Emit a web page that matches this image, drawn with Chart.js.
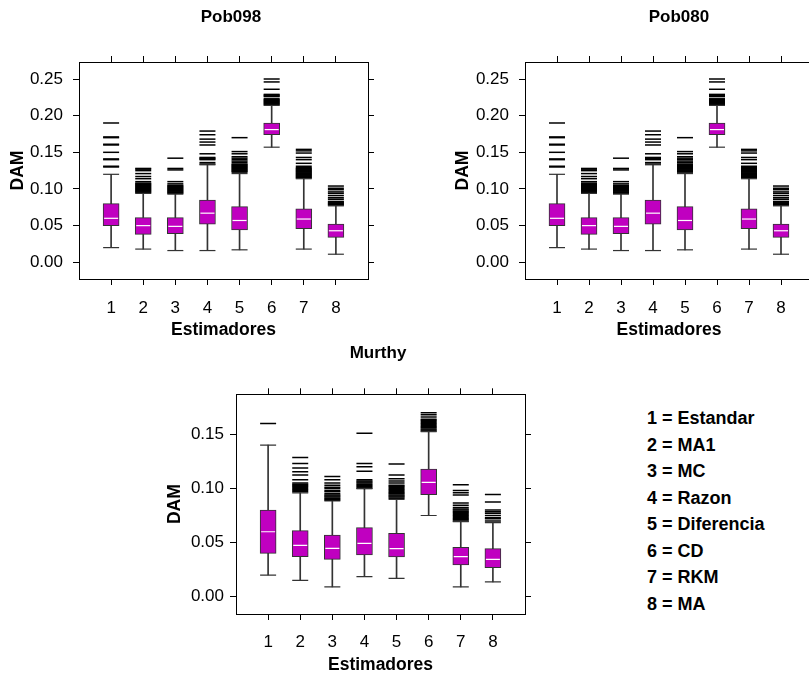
<!DOCTYPE html>
<html>
<head>
<meta charset="utf-8">
<title>DAM por estimador</title>
<script src="https://cdn.jsdelivr.net/npm/chart.js@4.4.0/dist/chart.umd.min.js"></script>
<style>
    body { margin: 0; background: #fff; font-family: "Liberation Sans", Arial, sans-serif; }
    #page { position: relative; width: 809px; height: 678px; overflow: hidden; }
    #page canvas { position: absolute; }
    #key {
        position: absolute;
        left: 647px;
        top: 405px;
        margin: 0;
        padding: 0;
        list-style: none;
        font-weight: bold;
        font-size: 18px;
        line-height: 26.5px;
        color: #000;
    }
</style>
</head>
<body>
<div id="page">
    <canvas id="pob098" width="462" height="350" style="left:0;top:0"></canvas>
    <canvas id="pob080" width="468" height="350" style="left:445px;top:0"></canvas>
    <canvas id="murthy" width="436" height="348" style="left:160px;top:330px"></canvas>
    <ul id="key"></ul>
</div>
<script>
// estimators on the x axis
const estimadores = [1, 2, 3, 4, 5, 6, 7, 8];
const estimatorNames = ['Estandar', 'MA1', 'MC', 'Razon', 'Diferencia', 'CD', 'RKM', 'MA'];

// Pob098 / Pob080 summaries (both populations give the same boxes)
const pobTicks = [0, 0.05, 0.10, 0.15, 0.20, 0.25];
const pobLower  = [0.020, 0.018, 0.016, 0.016, 0.017, 0.157, 0.018, 0.011];
const pobQ1     = [0.050, 0.038, 0.039, 0.052, 0.044, 0.174, 0.046, 0.034];
const pobMedian = [0.060, 0.050, 0.049, 0.067, 0.057, 0.181, 0.059, 0.043];
const pobQ3     = [0.080, 0.061, 0.061, 0.085, 0.076, 0.190, 0.073, 0.052];
const pobUpper  = [0.120, 0.094, 0.093, 0.133, 0.121, 0.214, 0.114, 0.077];
const pobOutliers = [
    [0.130, 0.131, 0.140, 0.141, 0.150, 0.160, 0.161, 0.170, 0.171, 0.190],
    [0.095, 0.096, 0.097, 0.098, 0.099, 0.100, 0.101, 0.102, 0.103, 0.104, 0.105, 0.106, 0.107, 0.108, 0.110, 0.114, 0.117, 0.121, 0.125, 0.127, 0.128],
    [0.094, 0.095, 0.096, 0.097, 0.098, 0.099, 0.100, 0.101, 0.102, 0.103, 0.104, 0.105, 0.107, 0.110, 0.126, 0.128, 0.142],
    [0.134, 0.136, 0.140, 0.141, 0.142, 0.143, 0.148, 0.160, 0.164, 0.168, 0.174, 0.179],
    [0.123, 0.124, 0.125, 0.126, 0.127, 0.128, 0.129, 0.130, 0.131, 0.132, 0.133, 0.134, 0.136, 0.138, 0.140, 0.142, 0.144, 0.148, 0.151, 0.170],
    [0.215, 0.216, 0.217, 0.218, 0.219, 0.220, 0.221, 0.222, 0.223, 0.226, 0.227, 0.228, 0.229, 0.236, 0.246, 0.250],
    [0.115, 0.116, 0.117, 0.118, 0.119, 0.120, 0.121, 0.122, 0.123, 0.124, 0.125, 0.126, 0.127, 0.128, 0.129, 0.131, 0.135, 0.140, 0.143, 0.149, 0.152, 0.154],
    [0.078, 0.079, 0.080, 0.081, 0.082, 0.083, 0.086, 0.088, 0.091, 0.094, 0.096, 0.099, 0.101, 0.104]
];

// Murthy summaries
const murthyTicks = [0, 0.05, 0.10, 0.15];
const murthyLower  = [0.020, 0.015, 0.009, 0.0185, 0.017, 0.075, 0.009, 0.0136];
const murthyQ1     = [0.040, 0.037, 0.0345, 0.0385, 0.0367, 0.0943, 0.0293, 0.0268];
const murthyMedian = [0.060, 0.0475, 0.0447, 0.0493, 0.0444, 0.1057, 0.037, 0.0345];
const murthyQ3     = [0.080, 0.061, 0.057, 0.0638, 0.0585, 0.118, 0.0456, 0.0444];
const murthyUpper  = [0.140, 0.096, 0.0884, 0.100, 0.090, 0.1525, 0.0693, 0.0684];
const murthyOutliers = [
    [0.160],
    [0.097, 0.098, 0.099, 0.100, 0.101, 0.102, 0.103, 0.104, 0.105, 0.108, 0.1125, 0.1155, 0.119, 0.123, 0.1285],
    [0.089, 0.090, 0.091, 0.092, 0.093, 0.094, 0.095, 0.097, 0.098, 0.100, 0.101, 0.103, 0.105, 0.108, 0.111],
    [0.100, 0.101, 0.102, 0.103, 0.104, 0.105, 0.106, 0.107, 0.108, 0.116, 0.120, 0.123, 0.151],
    [0.091, 0.092, 0.093, 0.094, 0.095, 0.096, 0.097, 0.098, 0.099, 0.100, 0.101, 0.102, 0.103, 0.105, 0.107, 0.109, 0.1125, 0.1227],
    [0.153, 0.154, 0.155, 0.156, 0.157, 0.158, 0.159, 0.160, 0.161, 0.162, 0.163, 0.164, 0.166, 0.168, 0.170],
    [0.070, 0.071, 0.072, 0.073, 0.074, 0.075, 0.076, 0.077, 0.078, 0.079, 0.080, 0.081, 0.0825, 0.0845, 0.0865, 0.094, 0.096, 0.098, 0.1035],
    [0.070, 0.072, 0.073, 0.075, 0.077, 0.0785, 0.080, 0.0875, 0.0945]
];

Chart.defaults.font.family = '"Liberation Sans", Arial, sans-serif';
Chart.defaults.color = '#000';

const boxFill = '#c000c0';
const lineGrey = '#333';

// short horizontal strokes, used for medians, whisker caps and outliers
function dashes(points, color, halfWidth, width, order) {
    return {
        type: 'scatter',
        data: points,
        pointStyle: 'line',
        pointRadius: halfWidth,
        pointHoverRadius: halfWidth,
        borderColor: color,
        borderWidth: width,
        showLine: false,
        order: order
    };
}

function boxDatasets(lower, q1, median, q3, upper, outliers) {
    const at = vals => estimadores.map((x, i) => ({ x: x, y: vals[i] }));
    const span = (a, b) => estimadores.map((x, i) => ({ x: x, y: [a[i], b[i]] }));
    const outs = [];
    outliers.forEach((list, i) => list.forEach(y => outs.push({ x: estimadores[i], y: y })));

    const whisker = data => ({
        type: 'bar', data: data, grouped: false, barThickness: 1,
        backgroundColor: lineGrey, borderWidth: 0, order: 6
    });

    return [
        whisker(span(lower, q1)),
        whisker(span(q3, upper)),
        {
            type: 'bar', data: span(q1, q3), grouped: false, barThickness: 16,
            backgroundColor: boxFill, borderColor: lineGrey, borderWidth: 1,
            borderSkipped: false, order: 5
        },
        dashes(at(median), '#fff', 7, 1.2, 1),
        dashes(at(lower).concat(at(upper)), lineGrey, 8, 1.2, 3),
        dashes(outs, '#000', 8, 1.5, 4)
    ];
}

function panelScales(p) {
    const tickMarks = {
        display: true, offset: false, drawOnChartArea: false, drawTicks: true,
        tickLength: 6, color: '#000', lineWidth: 1
    };
    const frame = { display: true, color: '#000', width: 1 };
    const xTicks = scale => { scale.ticks = estimadores.map(v => ({ value: v })); };
    const yTicks = scale => { scale.ticks = p.ticks.map(v => ({ value: v })); };
    return {
        x: {
            type: 'linear', position: 'bottom', min: 0, max: 9, offset: false,
            grid: tickMarks, border: frame, afterBuildTicks: xTicks,
            ticks: { padding: p.xTickPad, font: { size: 17 }, callback: v => String(v) },
            title: { display: true, text: 'Estimadores', font: { size: 17.5, weight: 'bold' }, padding: { top: 0, bottom: p.xTitlePad } },
            afterFit: s => { s.height = p.bottomH; }
        },
        xTop: {
            type: 'linear', axis: 'x', position: 'top', min: 0, max: 9, offset: false,
            grid: tickMarks, border: frame, afterBuildTicks: xTicks,
            ticks: { display: false },
            afterFit: s => { s.height = p.topH; }
        },
        y: {
            type: 'linear', position: 'left', min: p.yMin, max: p.yMax, offset: false,
            grid: tickMarks, border: frame, afterBuildTicks: yTicks,
            ticks: { padding: p.yTickPad, font: { size: 17 }, callback: v => v.toFixed(2) },
            title: { display: true, text: 'DAM', font: { size: 17.5, weight: 'bold' }, padding: { top: p.yTitlePad, bottom: 0 } },
            afterFit: s => { s.width = p.leftW; }
        },
        yRight: {
            type: 'linear', axis: 'y', position: 'right', min: p.yMin, max: p.yMax, offset: false,
            grid: tickMarks, border: frame, afterBuildTicks: yTicks,
            ticks: { display: false },
            afterFit: s => { s.width = p.rightW; }
        }
    };
}

function drawPanel(id, title, data, p) {
    return new Chart(document.getElementById(id), {
        type: 'bar',
        data: { datasets: boxDatasets.apply(null, data) },
        options: {
            responsive: false,
            animation: false,
            layout: { padding: 0 },
            scales: panelScales(p),
            plugins: {
                legend: { display: false },
                tooltip: { enabled: false },
                title: {
                    display: true, text: title,
                    font: { size: 17, weight: 'bold' },
                    padding: { top: p.titlePad, bottom: 0 }
                }
            }
        }
    });
}

const pobData = [pobLower, pobQ1, pobMedian, pobQ3, pobUpper, pobOutliers];
const murthyData = [murthyLower, murthyQ1, murthyMedian, murthyQ3, murthyUpper, murthyOutliers];

drawPanel('pob098', 'Pob098', pobData, {
    ticks: pobTicks, yMin: -0.0228, yMax: 0.2732,
    titlePad: 7.3, topH: 34.3, bottomH: 71, leftW: 79, rightW: 94,
    xTickPad: 13, xTitlePad: 9.8, yTickPad: 10, yTitlePad: 8.1
});

drawPanel('pob080', 'Pob080', pobData, {
    ticks: pobTicks, yMin: -0.0228, yMax: 0.2732,
    titlePad: 7.3, topH: 34.3, bottomH: 71, leftW: 80, rightW: 100,
    xTickPad: 13, xTitlePad: 9.8, yTickPad: 10, yTitlePad: 8.1
});

drawPanel('murthy', 'Murthy', murthyData, {
    ticks: murthyTicks, yMin: -0.016, yMax: 0.187,
    titlePad: 12.8, topH: 31.1, bottomH: 64, leftW: 76, rightW: 71,
    xTickPad: 12.3, xTitlePad: 2.3, yTickPad: 6, yTitlePad: 4.8
});

// key for the estimator numbers
const key = document.getElementById('key');
estimadores.forEach((n, i) => {
    const li = document.createElement('li');
    li.textContent = n + ' = ' + estimatorNames[i];
    key.appendChild(li);
});
</script>
</body>
</html>
